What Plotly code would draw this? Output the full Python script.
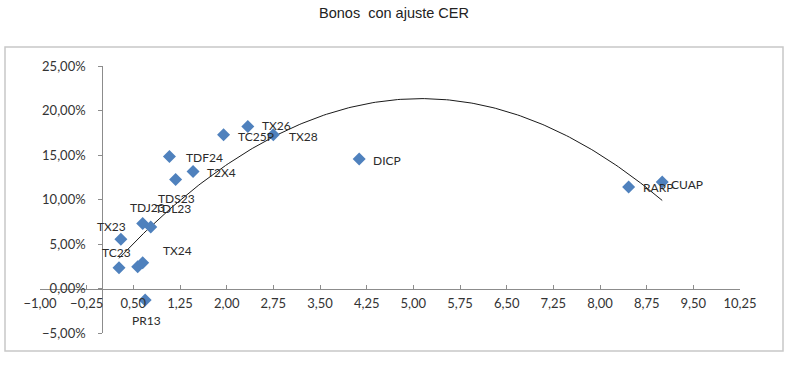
import numpy as np
import plotly.graph_objects as go

# ---- data ----
bond_names = ["TC23", "TX23", "", "TX24", "TDJ23", "TDL23", "TDS23", "TDF24",
              "T2X4", "TC25P", "TX26", "TX28", "PR13", "DICP", "RARP", "CUAP"]
duration = [0.27, 0.30, 0.57, 0.65, 0.65, 0.78, 1.18, 1.08,
            1.46, 1.95, 2.34, 2.75, 0.69, 4.13, 8.46, 9.00]
rate = [0.0233, 0.0554, 0.0244, 0.0289, 0.0730, 0.0692, 0.1226, 0.1484,
        0.1316, 0.1727, 0.1820, 0.1727, -0.0129, 0.1454, 0.1140, 0.1196]

x_tick_start, x_tick_step = -1.0, 0.75
y_tick_step = 0.05

# label offsets in pixels (dx right, dy down) – styling only
label_dx = [-3, -9, 0, 35, 5, 22, 1, 35, 28, 32, 29, 30, 1, 28, 29, 25]
label_dy = [-15, -13, 0, -12, -16, -18, 19, 1, 1, 2, -1, 2, 21, 1, 0, 2]

x_range = [-1.0, 10.25]
y_range = [-0.05, 0.25]

# ---- polynomial (order 2) trendline fitted to the data ----
coef = np.polyfit(duration, rate, 2)
xt = np.linspace(min(duration), max(duration), 200)
yt = np.polyval(coef, xt)

fig = go.Figure()
fig.add_trace(go.Scatter(
    x=xt, y=yt, mode="lines",
    line=dict(color="#1a1a1a", width=1), hoverinfo="skip", showlegend=False))
fig.add_trace(go.Scatter(
    x=duration, y=rate, mode="markers",
    marker=dict(symbol="diamond", size=10, color="#4F81BD"),
    text=bond_names, showlegend=False))

label_font = dict(family="Lato, Carlito, sans-serif", size=12, color="#2b2b2b")
for name, xv, yv, dx, dy in zip(bond_names, duration, rate, label_dx, label_dy):
    if not name:
        continue
    fig.add_annotation(x=xv, y=yv, text=name, showarrow=False,
                       xanchor="center", yanchor="middle",
                       xshift=dx, yshift=-dy, font=label_font)

W, H = 800, 369
ml, mr, mt, mb = 40, 60, 66, 36
tick_font = dict(family="Lato, Carlito, sans-serif", size=13, color="#333333")
fig.update_layout(
    width=W, height=H,
    margin=dict(l=ml, r=mr, t=mt, b=mb),
    paper_bgcolor="white", plot_bgcolor="white",
    separators=",.",
    title=dict(text="Bonos  con ajuste CER", x=394 / W, xref="container",
               y=1 - 13 / H, yref="container", yanchor="middle", xanchor="center",
               font=dict(family="Liberation Sans, Arial, sans-serif", size=14.5, color="#222222")),
    xaxis=dict(range=x_range, tick0=x_tick_start, dtick=x_tick_step,
               tickformat=".2f", showgrid=False, zeroline=False,
               showline=True, linecolor="#8c8c8c", linewidth=1,
               ticks="inside", ticklen=4, tickcolor="#8c8c8c",
               anchor="free",
               position=(0 - y_range[0]) / (y_range[1] - y_range[0]),
               ticklabelstandoff=3,
               tickfont=tick_font),
    yaxis=dict(range=y_range, dtick=y_tick_step, tickformat=".2%",
               showgrid=False, zeroline=False,
               showline=True, linecolor="#8c8c8c", linewidth=1,
               ticks="outside", ticklen=4, tickcolor="#8c8c8c",
               anchor="free",
               position=(0 - x_range[0]) / (x_range[1] - x_range[0]),
               ticklabelstandoff=10,
               tickfont=tick_font),
)

# chart-area border
pw, ph = W - ml - mr, H - mt - mb
fig.add_shape(type="rect", xref="paper", yref="paper",
              x0=(5 - ml) / pw, x1=(783 - ml) / pw,
              y0=(H - mb - 351) / ph, y1=(H - mb - 47) / ph,
              line=dict(color="#c8c8c8", width=1.5), layer="below")

fig.write_html("out.html", config={"displayModeBar": False},
               post_script="document.body.style.margin='0';document.body.style.overflow='hidden';")
